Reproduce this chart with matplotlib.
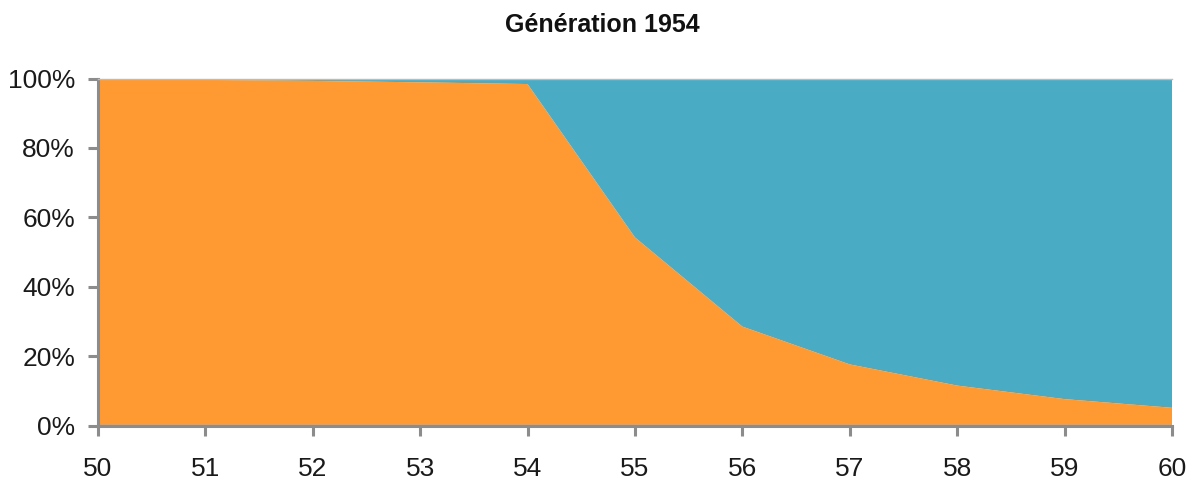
import matplotlib
matplotlib.use("Agg")
import matplotlib.pyplot as plt
from matplotlib.ticker import FuncFormatter

ages = [50, 51, 52, 53, 54, 55, 56, 57, 58, 59, 60]
share_orange = [99.8, 99.6, 99.3, 98.9, 98.4, 54.2, 28.5, 17.6, 11.5, 7.6, 5.1]
share_blue = [100 - v for v in share_orange]
title = "Génération 1954"

orange = "#FF9A33"
blue = "#4AABC5"
axis_grey = "#8C8C8C"

plt.rcParams["font.family"] = ["Liberation Sans", "DejaVu Sans"]

fig = plt.figure(figsize=(11.9, 4.82), dpi=100)
ax = fig.add_axes([98 / 1190, 56.5 / 482, (1172 - 98) / 1190, 347 / 482])

ax.stackplot(ages, share_orange, share_blue, colors=[orange, blue], linewidth=0)

ax.set_xlim(50, 60)
ax.set_ylim(0, 100)
ax.set_xticks(ages)
ax.set_yticks(range(0, 101, 20))
ax.yaxis.set_major_formatter(FuncFormatter(lambda v, _: f"{v:.0f}%"))

ax.spines["right"].set_visible(False)
ax.spines["top"].set_color("#BBBBBB")
ax.spines["top"].set_linewidth(1.0)
for side in ("left", "bottom"):
    ax.spines[side].set_color(axis_grey)
    ax.spines[side].set_linewidth(2.2)

ax.tick_params(axis="both", which="major", direction="out", length=7.5, width=2.2,
               color=axis_grey, labelsize=19, labelcolor="#1A1A1A")
ax.tick_params(axis="y", pad=9)
ax.tick_params(axis="x", pad=15)

fig.text(602 / 1190, 1 - 25 / 482, title, ha="center", va="center",
         fontsize=18, fontweight="bold", color="#111111")

fig.savefig("out.png", dpi=100)
